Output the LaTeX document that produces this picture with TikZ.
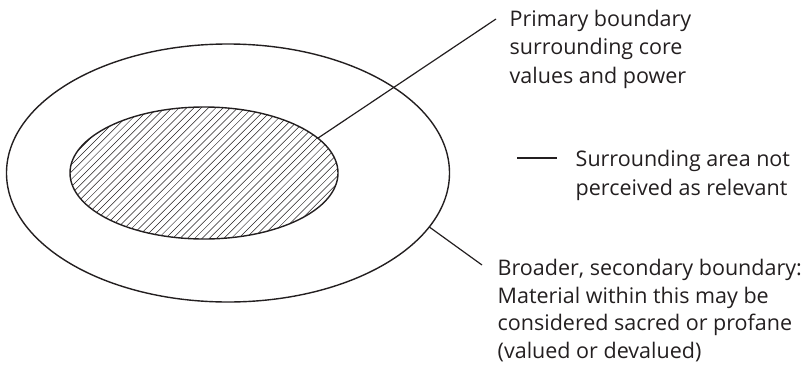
\documentclass[tikz,border=0pt]{standalone}
\usepackage{fontspec}
\setmainfont{Open Sans}
\usetikzlibrary{shapes.geometric}
\definecolor{ink}{HTML}{231F20}

\begin{document}
\begin{tikzpicture}[x=1pt, y=-1pt, line width=1.4pt, color=ink,
    ring/.style={ellipse, draw, inner sep=0pt, outer sep=0pt},
    note/.style={anchor=base west, align=left, inner sep=0pt,
        font=\fontsize{21.5}{28.3}\selectfont},
    lead/.style={line width=1.2pt}]
    \useasboundingbox (0, 0) rectangle (804, 365);

    % the two boundaries, the inner one hatched
    \node [ring, minimum width=443pt, minimum height=258pt] (outer) at (228, 173) {};
    \node [ring, minimum width=268pt, minimum height=132pt,
        path picture={
            \foreach \i in {-19,...,36}
                \draw [line width=0.5pt] ([xshift=\i*7.3pt] path picture bounding box.south west) -- ++(150pt, 150pt);
        }] (core) at (204, 173) {};

    % base anchor sits on the last line
    \node [note] (primary) at (509, 83) {Primary boundary\\surrounding core\\values and power};
    \node [note] (area) at (575, 195) {Surrounding area not\\perceived as relevant};
    \node [note, font=\fontsize{21.5}{27.5}\selectfont] (broad) at (497, 358) {Broader, secondary boundary:\\Material within this may be\\considered sacred or profane\\(valued or devalued)};

    \coordinate (p1) at (496, 19);
    \coordinate (a0) at (517, 158);
    \coordinate (a1) at (557, 158);
    \coordinate (b1) at (482, 265);

    \draw [lead] (core.17.5) -- (p1);
    \draw [lead] (a0) -- (a1);
    \draw [lead] (outer.-15.6) -- (b1);
\end{tikzpicture}
\end{document}
